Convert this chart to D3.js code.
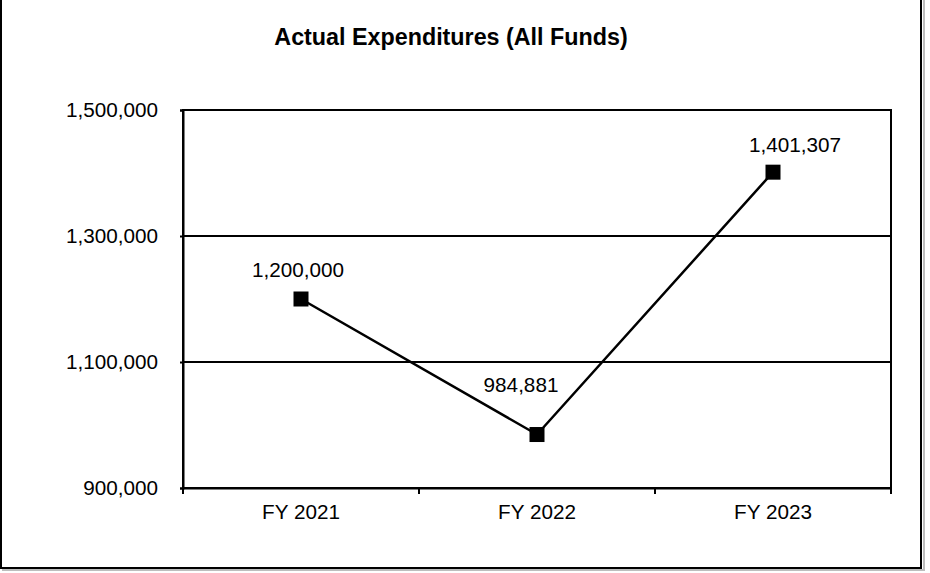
<!DOCTYPE html>
<html>
<head>
<meta charset="utf-8">
<script src="https://cdn.jsdelivr.net/npm/d3@7/dist/d3.min.js"></script>
<style>
  html, body { margin: 0; padding: 0; background: #fff; }
  svg { display: block; }
  text { font-family: Arial, "Liberation Sans", sans-serif; fill: #000; }
</style>
</head>
<body>
<svg id="chart" width="930" height="573"></svg>
<script>
// ---- data ----
const title = "Actual Expenditures (All Funds)";
const categories = ["FY 2021", "FY 2022", "FY 2023"];
const values = [1200000, 984881, 1401307];
const yTicks = [900000, 1100000, 1300000, 1500000];
const yDomain = [900000, 1500000];

// ---- layout ----
const W = 930, H = 573;
const plot = { left: 183, right: 891, top: 110, bottom: 488 };
// label offsets relative to marker (Excel-style placement)
const labelOffsets = [[-3, -22], [-16, -43], [22, -20]];

const svg = d3.select("#chart");
const fmt = d3.format(",");

// outer frame with light shadow
svg.append("rect").attr("x", 3).attr("y", -2).attr("width", 921).attr("height", 572)
  .attr("fill", "none").attr("stroke", "#bdbdbd").attr("stroke-width", 2);
svg.append("rect").attr("x", 1).attr("y", -2).attr("width", 920).attr("height", 570)
  .attr("fill", "#fff").attr("stroke", "#000").attr("stroke-width", 2);

// title
svg.append("text").attr("x", 451).attr("y", 45)
  .attr("text-anchor", "middle").attr("font-weight", "bold")
  .attr("font-size", "23.3px").text(title);

const x = d3.scaleBand().domain(categories).range([plot.left, plot.right]).padding(0);
const y = d3.scaleLinear().domain(yDomain).range([plot.bottom, plot.top]);

// gridlines
svg.append("g").selectAll("line").data(yTicks).join("line")
  .attr("x1", plot.left).attr("x2", plot.right)
  .attr("y1", d => y(d)).attr("y2", d => y(d))
  .attr("stroke", "#000").attr("stroke-width", 2);

// plot frame
svg.append("rect").attr("x", plot.left).attr("y", plot.top)
  .attr("width", plot.right - plot.left).attr("height", plot.bottom - plot.top)
  .attr("fill", "none").attr("stroke", "#000").attr("stroke-width", 2);

// y axis
const yAxis = d3.axisLeft(y).tickValues(yTicks).tickFormat(fmt).tickSize(3).tickPadding(22);
const gy = svg.append("g").attr("transform", `translate(${plot.left},0)`).call(yAxis);
gy.select(".domain").attr("stroke", "#000").attr("stroke-width", 2);
gy.selectAll(".tick line").attr("stroke", "#000").attr("stroke-width", 2);
gy.selectAll(".tick text").attr("font-size", "20.7px")
  .attr("font-family", "Arial, 'Liberation Sans', sans-serif").attr("fill", "#000");

// x axis: ticks at band boundaries
const gx = svg.append("g").attr("transform", `translate(0,${plot.bottom})`)
  .call(d3.axisBottom(x).tickSize(0));
gx.select(".domain").attr("stroke", "#000").attr("stroke-width", 2);
gx.selectAll(".tick text").attr("font-size", "20.7px")
  .attr("font-family", "Arial, 'Liberation Sans', sans-serif").attr("fill", "#000")
  .attr("dy", "0").attr("y", 31);
const bounds = categories.map(c => x(c)).concat([x(categories[categories.length - 1]) + x.bandwidth()]);
gx.selectAll(".bound").data(bounds).join("line").attr("class", "bound")
  .attr("x1", d => d).attr("x2", d => d).attr("y1", 0).attr("y2", 6)
  .attr("stroke", "#000").attr("stroke-width", 2);

// line
const pts = categories.map((c, i) => [x(c) + x.bandwidth() / 2, y(values[i])]);
svg.append("path").datum(pts)
  .attr("d", d3.line())
  .attr("fill", "none").attr("stroke", "#000").attr("stroke-width", 2.5);

// markers
const ms = 15;
svg.append("g").selectAll("rect").data(pts).join("rect")
  .attr("x", d => d[0] - ms / 2).attr("y", d => d[1] - ms / 2)
  .attr("width", ms).attr("height", ms).attr("fill", "#000");

// data labels
svg.append("g").selectAll("text").data(values).join("text")
  .attr("x", (d, i) => pts[i][0] + labelOffsets[i][0])
  .attr("y", (d, i) => pts[i][1] + labelOffsets[i][1])
  .attr("text-anchor", "middle").attr("font-size", "20.7px")
  .text(d => fmt(d));
</script>
</body>
</html>
